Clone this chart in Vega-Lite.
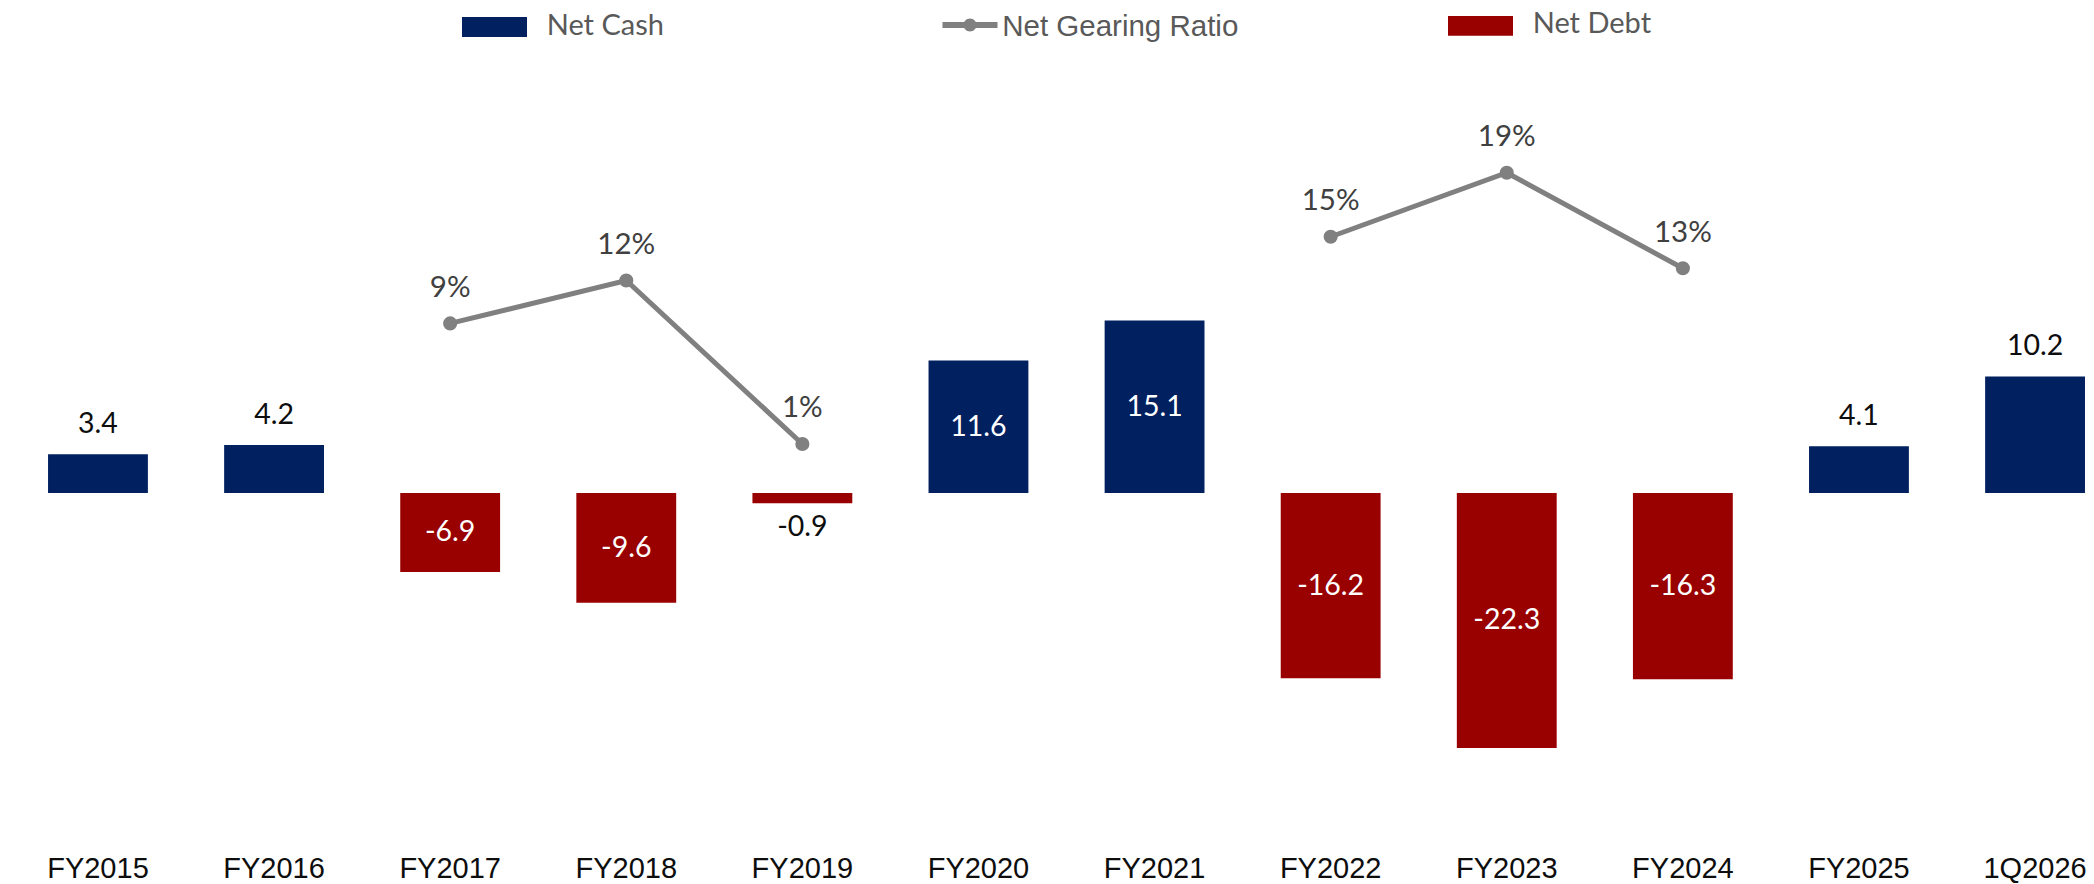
{
  "$schema": "https://vega.github.io/schema/vega-lite/v6.json",
  "autosize": {"type": "none"},
  "padding": {"left": 0, "top": 0, "right": 0, "bottom": 34},
  "width": 2094,
  "height": 850,
  "background": "white",
  "config": {"view": {"stroke": null}},
  "datasets": {
    "bars": [
      {"period": "FY2015", "value": 3.4, "series": "Net Cash"},
      {"period": "FY2016", "value": 4.2, "series": "Net Cash"},
      {"period": "FY2017", "value": -6.9, "series": "Net Debt"},
      {"period": "FY2018", "value": -9.6, "series": "Net Debt"},
      {"period": "FY2019", "value": -0.9, "series": "Net Debt"},
      {"period": "FY2020", "value": 11.6, "series": "Net Cash"},
      {"period": "FY2021", "value": 15.1, "series": "Net Cash"},
      {"period": "FY2022", "value": -16.2, "series": "Net Debt"},
      {"period": "FY2023", "value": -22.3, "series": "Net Debt"},
      {"period": "FY2024", "value": -16.3, "series": "Net Debt"},
      {"period": "FY2025", "value": 4.1, "series": "Net Cash"},
      {"period": "1Q2026", "value": 10.2, "series": "Net Cash"}
    ],
    "gearing": [
      {"period": "FY2017", "ratio": 0.09, "segment": "A"},
      {"period": "FY2018", "ratio": 0.1185, "segment": "A"},
      {"period": "FY2019", "ratio": 0.01, "segment": "A"},
      {"period": "FY2022", "ratio": 0.1475, "segment": "B"},
      {"period": "FY2023", "ratio": 0.19, "segment": "B"},
      {"period": "FY2024", "ratio": 0.1266, "segment": "B"}
    ]
  },
  "encoding": {
    "x": {
      "field": "period",
      "type": "nominal",
      "sort": null,
      "scale": {
        "domain": ["FY2015", "FY2016", "FY2017", "FY2018", "FY2019", "FY2020", "FY2021", "FY2022", "FY2023", "FY2024", "FY2025", "1Q2026"],
        "paddingInner": 0.433,
        "paddingOuter": 0.162,
        "align": 0.842
      },
      "axis": {
        "title": null,
        "domain": false,
        "ticks": false,
        "tickSize": 0,
        "grid": false,
        "labelAngle": 0,
        "labelFont": "Liberation Sans",
        "labelFontSize": 29,
        "labelColor": "#0d0d0d",
        "labelBaseline": "alphabetic",
        "labelPadding": 27.5
      }
    }
  },
  "layer": [
    {
      "data": {"name": "bars"},
      "encoding": {
        "y": {"type": "quantitative", "scale": {"domain": [-31.23, 43.13], "nice": false, "zero": false}, "axis": null}
      },
      "layer": [
        {
          "mark": {"type": "bar"},
          "encoding": {
            "y": {"field": "value", "type": "quantitative"},
            "y2": {"datum": 0},
            "color": {
              "field": "series",
              "type": "nominal",
              "scale": {"domain": ["Net Cash", "Net Gearing Ratio", "Net Debt"], "range": ["#002060", "#808080", "#990000"]},
              "legend": {
                "title": null,
                "orient": "none",
                "direction": "horizontal",
                "columns": 3,
                "gridAlign": "all",
                "columnPadding": 196,
                "legendX": 462,
                "legendY": -6.9,
                "padding": 0,
                "symbolSize": 4225,
                "symbolStrokeWidth": 0,
                "labelOffset": 19.7,
                "labelFont": "Lato",
                "labelFontSize": 29,
                "labelColor": "#595959",
                "labelLimit": 400,
                "encode": {
                  "symbols": {
                    "update": {
                      "shape": {"signal": "datum.value === 'Net Cash' ? 'M-1,-0.274L1,-0.274L1,0.342L-1,0.342Z' : datum.value === 'Net Debt' ? 'M-1,-0.357L1,-0.357L1,0.249L-1,0.249Z' : 'M-1.385,-0.11L0.308,-0.11L0.308,0.074L-1.385,0.074Z M-0.738,-0.018 A0.2,0.2 0 1,1 -0.338,-0.018 A0.2,0.2 0 1,1 -0.738,-0.018Z'"},
                      "strokeWidth": {"value": 0},
                      "opacity": {"value": 1}
                    }
                  },
                  "labels": {
                    "update": {
                      "font": {"signal": "datum.value === 'Net Gearing Ratio' ? 'Liberation Sans' : 'Lato'"},
                      "fontSize": {"signal": "datum.value === 'Net Gearing Ratio' ? 29.5 : 29"},
                      "dx": {"signal": "datum.value === 'Net Gearing Ratio' ? -37.5 : 0"},
                      "dy": {"signal": "datum.value === 'Net Gearing Ratio' ? 1 : datum.value === 'Net Debt' ? -3.6 : 0"}
                    }
                  }
                }
              }
            }
          }
        },
        {
          "mark": {"type": "rule", "color": "#d9d9d9", "strokeWidth": 2},
          "encoding": {"y": {"datum": 0}}
        },
        {
          "transform": [
            {"filter": "datum.value >= 11 || datum.value <= -5"},
            {"calculate": "datum.value / 2", "as": "mid"}
          ],
          "mark": {"type": "text", "font": "Lato", "fontSize": 28.5, "color": "white", "baseline": "middle"},
          "encoding": {
            "y": {"field": "mid", "type": "quantitative"},
            "text": {"field": "value", "type": "nominal"}
          }
        },
        {
          "transform": [{"filter": "datum.value > 0 && datum.value < 11"}],
          "mark": {"type": "text", "font": "Lato", "fontSize": 28.5, "color": "#0d0d0d", "baseline": "alphabetic", "dy": -21.5},
          "encoding": {
            "y": {"field": "value", "type": "quantitative"},
            "text": {"field": "value", "type": "nominal"}
          }
        },
        {
          "transform": [{"filter": "datum.value < 0 && datum.value > -5"}],
          "mark": {"type": "text", "font": "Lato", "fontSize": 28.5, "color": "#0d0d0d", "baseline": "alphabetic", "dy": 32.7},
          "encoding": {
            "y": {"field": "value", "type": "quantitative"},
            "text": {"field": "value", "type": "nominal"}
          }
        }
      ]
    },
    {
      "data": {"name": "gearing"},
      "encoding": {
        "y": {"field": "ratio", "type": "quantitative", "scale": {"domain": [-0.2594, 0.3046], "nice": false, "zero": false}, "axis": null}
      },
      "layer": [
        {
          "mark": {"type": "line", "color": "#808080", "strokeWidth": 5},
          "encoding": {"detail": {"field": "segment", "type": "nominal"}}
        },
        {
          "mark": {"type": "point", "filled": true, "color": "#808080", "opacity": 1, "size": 200}
        },
        {
          "mark": {"type": "text", "font": "Lato", "fontSize": 29.5, "color": "#404040", "baseline": "alphabetic", "dy": -26.7},
          "encoding": {"text": {"field": "ratio", "type": "quantitative", "format": ".0%"}}
        }
      ]
    }
  ],
  "resolve": {"scale": {"y": "independent"}}
}
